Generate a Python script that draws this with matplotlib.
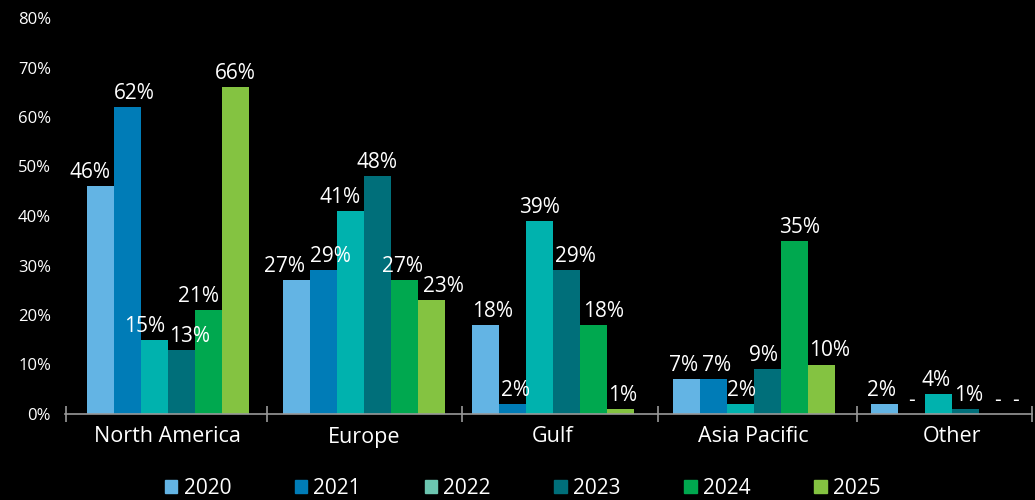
import numpy as np
import matplotlib.pyplot as plt

plt.rcParams['font.family'] = ['Open Sans', 'DejaVu Sans']

# data
regions = ['North America', 'Europe', 'Gulf', 'Asia Pacific', 'Other']
years = ['2020', '2021', '2022', '2023', '2024', '2025']
v2020 = [46, 27, 18, 7, 2]
v2021 = [62, 29, 2, 7, 0]
v2022 = [15, 41, 39, 2, 4]
v2023 = [13, 48, 29, 9, 1]
v2024 = [21, 27, 18, 35, 0]
v2025 = [66, 23, 1, 10, 0]
labels_2021 = ['62%', '29%', '2%', '7%', '-']
labels_2024 = ['21%', '27%', '18%', '35%', '-']
labels_2025 = ['66%', '23%', '1%', '10%', '-']

series = [v2020, v2021, v2022, v2023, v2024, v2025]
colors = ['#63B4E4', '#007CB7', '#00B2AE', '#006F7A', '#00A84F', '#84C341']
legend_colors = ['#63B4E4', '#007CB7', '#6CC5B0', '#006F7A', '#00A84F', '#84C341']

# label nudges (pixels) so neighbouring labels don't collide, as in the original
nudge = [[-10, -12, 7, -3, -3],
         [7, 7, 3, 3, 0],
         [-10, -10, 0, 1, -2],
         [8, 0, 9, -4, 3],
         [-10, -2, 10, 5, 5],
         [0, 12, 2, 8, -4]]

fig = plt.figure(figsize=(10.35, 5), dpi=100, facecolor='black')
ax = fig.add_axes([65/1035, 86/500, 967/1035, 396/500])
ax.set_facecolor('black')

x = np.array([0, 1, 1.965, 2.99, 4.0])
w = 0.138
for k, vals in enumerate(series):
    pos = x + (k - 2.5) * w
    ax.bar(pos, vals, width=w, color=colors[k], zorder=2)
    for i, v in enumerate(vals):
        if k == 1:
            lab = labels_2021[i]
        elif k == 4:
            lab = labels_2024[i]
        elif k == 5:
            lab = labels_2025[i]
        else:
            lab = f'{v}%'
        ax.annotate(lab, (pos[i], v), xytext=(nudge[k][i], 3),
                    textcoords='offset pixels', ha='center', va='bottom',
                    color='white', fontsize=15, zorder=3)

ax.set_ylim(0, 80)
ax.set_xlim(-0.525, 4.41)
ax.set_yticks(np.arange(0, 81, 10))
ax.set_yticklabels([f'{t}%' for t in range(0, 81, 10)])
ax.tick_params(axis='y', length=0, colors='white', labelsize=12, pad=10)

ax.set_xticks(x)
ax.set_xticklabels(regions)
ax.tick_params(axis='x', length=0, colors='white', labelsize=15.5, pad=9)
ax.set_xticks([-0.52, 0.505, 1.5, 2.5, 3.515, 4.41], minor=True)
ax.tick_params(axis='x', which='minor', length=12, direction='inout', color='#999999', width=1.2)

for s in ['left', 'right', 'top']:
    ax.spines[s].set_visible(False)
ax.spines['bottom'].set_color('#999999')
ax.spines['bottom'].set_linewidth(1.2)

handles = [plt.Rectangle((0, 0), 1, 1, color=c) for c in legend_colors]
fig.legend(handles, years, loc='center', bbox_to_anchor=(0.505, 0.024), ncol=6,
           frameon=False, fontsize=15, labelcolor='white', handlelength=0.6,
           handleheight=0.6, handletextpad=0.3, columnspacing=3.05)

fig.savefig('out.png', dpi=100, facecolor='black')
